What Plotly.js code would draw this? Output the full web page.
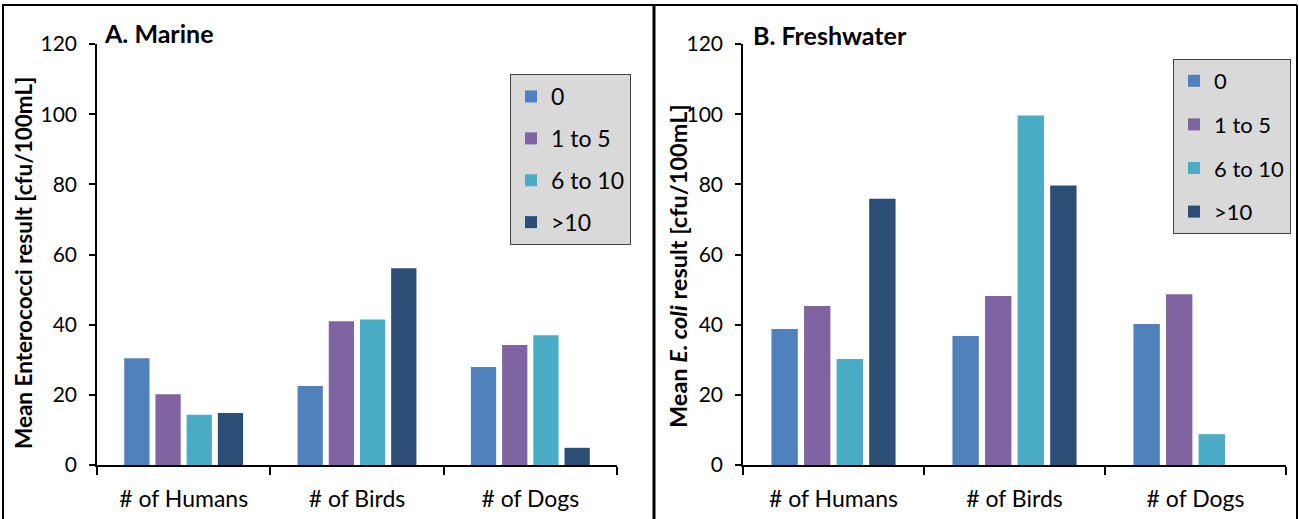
<!DOCTYPE html>
<html>
<head>
<meta charset="utf-8">
<script src="https://cdn.plot.ly/plotly-3.0.1.min.js"></script>
<style>html,body{margin:0;padding:0;background:#fff;}#chart{width:1299px;height:519px;}</style>
</head>
<body>
<div id="chart"></div>
<script>
const categories = ["# of Humans", "# of Birds", "# of Dogs"];
const seriesNames = ["0", "1 to 5", "6 to 10", ">10"];
const seriesColors = ["#4f81bd", "#8064a2", "#4bacc6", "#2c4d75"];
// A. Marine - Mean Enterococci
const marine0 = [30.4, 22.5, 27.9];
const marine1to5 = [20.2, 41.0, 34.2];
const marine6to10 = [14.3, 41.5, 37.0];
const marineOver10 = [14.8, 56.1, 4.9];
// B. Freshwater - Mean E. coli
const fresh0 = [38.8, 36.8, 40.2];
const fresh1to5 = [45.3, 48.2, 48.7];
const fresh6to10 = [30.2, 99.6, 8.8];
const freshOver10 = [75.9, 79.7, null];

const yTicks = [0, 20, 40, 60, 80, 100, 120];
const FONT = "Lato, 'Open Sans', sans-serif";

const marine = [marine0, marine1to5, marine6to10, marineOver10];
const fresh = [fresh0, fresh1to5, fresh6to10, freshOver10];

const traces = [];
marine.forEach((vals, i) => {
  traces.push({type: 'bar', x: categories, y: vals, name: seriesNames[i],
    marker: {color: seriesColors[i]}, xaxis: 'x', yaxis: 'y',
    legend: 'legend', legendgroup: 'm' + i, hoverinfo: 'y'});
});
fresh.forEach((vals, i) => {
  traces.push({type: 'bar', x: categories, y: vals, name: seriesNames[i],
    marker: {color: seriesColors[i]}, xaxis: 'x2', yaxis: 'y2',
    legend: 'legend2', legendgroup: 'f' + i, hoverinfo: 'y'});
});

const W = 1299, H = 519;
const px = v => v / W;
const py = v => 1 - v / H;

const xCommon = {
  type: 'category', showline: true, linecolor: '#000', linewidth: 1.5,
  ticks: 'outside', tickson: 'boundaries', ticklen: 8, tickcolor: '#000', tickwidth: 1.5,
  showgrid: false, zeroline: false, tickfont: {family: FONT, size: 23, color: '#000'},
  ticklabelstandoff: 13, fixedrange: true
};
const yCommon = {
  range: [0, 120], tickvals: yTicks, showline: true, linecolor: '#000', linewidth: 1.5,
  ticks: 'outside', ticklen: 6, tickcolor: '#000', tickwidth: 1.5,
  showgrid: false, zeroline: false, tickfont: {family: FONT, size: 21, color: '#000'},
  ticklabelstandoff: 8, fixedrange: true
};
const legendCommon = {
  bgcolor: '#d9d9d9', bordercolor: '#404040', borderwidth: 1,
  traceorder: 'grouped', xanchor: 'left', yanchor: 'top',
  itemwidth: 30, itemclick: false, itemdoubleclick: false
};
const titleFont = {family: FONT, size: 25, color: '#000'};
const yTitleFont = {family: FONT, size: 22.5, color: '#000'};

const layout = {
  width: W, height: H,
  margin: {l: 0, r: 0, t: 0, b: 0},
  paper_bgcolor: '#fff', plot_bgcolor: 'rgba(0,0,0,0)',
  barmode: 'group', bargap: 0.28, bargroupgap: 0.19,
  showlegend: true,
  font: {family: FONT, color: '#000'},
  xaxis: Object.assign({}, xCommon, {domain: [px(97), px(617)], anchor: 'y'}),
  yaxis: Object.assign({}, yCommon, {domain: [py(465), py(44)], anchor: 'x'}),
  xaxis2: Object.assign({}, xCommon, {domain: [px(743), px(1286)], anchor: 'y2'}),
  yaxis2: Object.assign({}, yCommon, {domain: [py(465), py(44)], anchor: 'x2'}),
  legend: Object.assign({}, legendCommon, {x: px(510), y: py(74), tracegroupgap: 9,
    font: {family: FONT, size: 23, color: '#000'}}),
  legend2: Object.assign({}, legendCommon, {x: px(1173), y: py(59), tracegroupgap: 12,
    font: {family: FONT, size: 22, color: '#000'}}),
  annotations: [
    {text: '<b>A. Marine</b>', xref: 'paper', yref: 'paper', x: px(102), y: py(33),
     xanchor: 'left', yanchor: 'middle', showarrow: false, font: titleFont},
    {text: '<b>B. Freshwater</b>', xref: 'paper', yref: 'paper', x: px(751), y: py(35),
     xanchor: 'left', yanchor: 'middle', showarrow: false, font: titleFont},
    {text: '<b>Mean Enterococci result [cfu/100mL]</b>', xref: 'paper', yref: 'paper',
     x: px(23), y: py(263), xanchor: 'center', yanchor: 'middle', textangle: -90,
     showarrow: false, font: yTitleFont},
    {text: '<b>Mean <i>E. coli</i> result [cfu/100mL]</b>', xref: 'paper', yref: 'paper',
     x: px(678), y: py(266), xanchor: 'center', yanchor: 'middle', textangle: -90,
     showarrow: false, font: {family: FONT, size: 23.5, color: '#000'}}
  ],
  shapes: [
    {type: 'line', xref: 'paper', yref: 'paper', x0: px(2), x1: px(1297), y0: py(5), y1: py(5), line: {color: '#000', width: 2}},
    {type: 'line', xref: 'paper', yref: 'paper', x0: px(3), x1: px(3), y0: py(5), y1: py(525), line: {color: '#000', width: 2}},
    {type: 'line', xref: 'paper', yref: 'paper', x0: px(1297), x1: px(1297), y0: py(5), y1: py(525), line: {color: '#000', width: 2}},
    {type: 'line', xref: 'paper', yref: 'paper', x0: px(654), x1: px(654), y0: py(5), y1: py(525), line: {color: '#000', width: 3}}
  ]
};

Plotly.newPlot('chart', traces, layout, {displayModeBar: false});
</script>
</body>
</html>
